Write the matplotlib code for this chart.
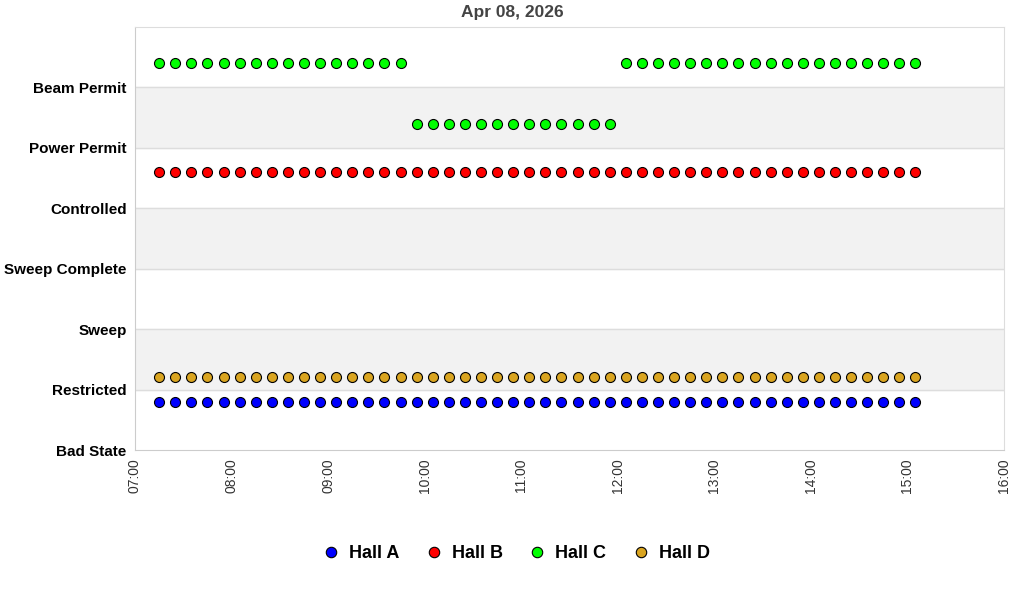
import numpy as np
import pandas as pd
import matplotlib
matplotlib.use('Agg')
import matplotlib.pyplot as plt
import matplotlib.dates as mdates
from matplotlib.lines import Line2D

plt.rcParams['font.family'] = ['Liberation Sans', 'DejaVu Sans']

# state names, bottom to top
states = ['Bad State', 'Restricted', 'Sweep', 'Sweep Complete',
          'Controlled', 'Power Permit', 'Beam Permit']

# samples every 10 minutes
times = pd.date_range('2026-04-08 07:15', '2026-04-08 15:05', freq='10min')

halls = ['Hall A', 'Hall B', 'Hall C', 'Hall D']
colors = ['#0000ff', '#ff0000', '#00ff00', '#daa520']
offsets = [-0.2, -0.4, 0.4, 0.2]

hall_a = [1] * 48
hall_b = [5] * 48
hall_c = [6] * 16 + [5] * 13 + [6] * 19
hall_d = [1] * 48
series = [hall_a, hall_b, hall_c, hall_d]

fig = plt.figure(figsize=(10.24, 6), dpi=100)
ax = fig.add_axes([135 / 1024, 1 - 450 / 600, 869 / 1024, 423 / 600])

for lo in (1, 3, 5):
    ax.axhspan(lo, lo + 1, color='#f2f2f2', zorder=0)
for y in range(1, 7):
    ax.axhline(y, color='#dddddd', lw=1, zorder=1)

for name, col, off, vals in zip(halls, colors, offsets, series):
    ax.plot(times, np.array(vals) + off, ls='none', marker='o', ms=7.2,
            mfc=col, mec='black', mew=0.8, zorder=3, label=name)

ax.set_ylim(0, 7)
ax.set_yticks(range(7))
ax.set_yticklabels(states, fontweight='bold', fontsize=11)
ax.set_xlim(pd.Timestamp('2026-04-08 07:00'), pd.Timestamp('2026-04-08 16:00'))
ax.xaxis.set_major_locator(mdates.HourLocator())
ax.xaxis.set_major_formatter(mdates.DateFormatter('%H:%M'))
plt.setp(ax.get_xticklabels(), rotation=90, fontsize=10, color='#333333')
ax.tick_params(axis='x', length=0, pad=6)
ax.tick_params(axis='y', length=0, pad=6)

for s in ax.spines.values():
    s.set_color('#dddddd')
ax.spines['left'].set_color('#cccccc')
ax.spines['bottom'].set_color('#cccccc')

fig.text(0.5, 1 - 13 / 600, 'Apr 08, 2026', ha='center', va='center',
         fontweight='bold', fontsize=12.5, color='#444444')

handles = [Line2D([], [], ls='none', marker='o', ms=7.5, mfc=c, mec='black', mew=0.8)
           for c in colors]
fig.legend(handles, halls, loc='center', bbox_to_anchor=(516 / 1024, 1 - 554 / 600),
           ncol=4, frameon=False, prop={'weight': 'bold', 'size': 13},
           handlelength=1.0, handletextpad=0.5, columnspacing=1.4)

fig.savefig('out.png', dpi=100)
